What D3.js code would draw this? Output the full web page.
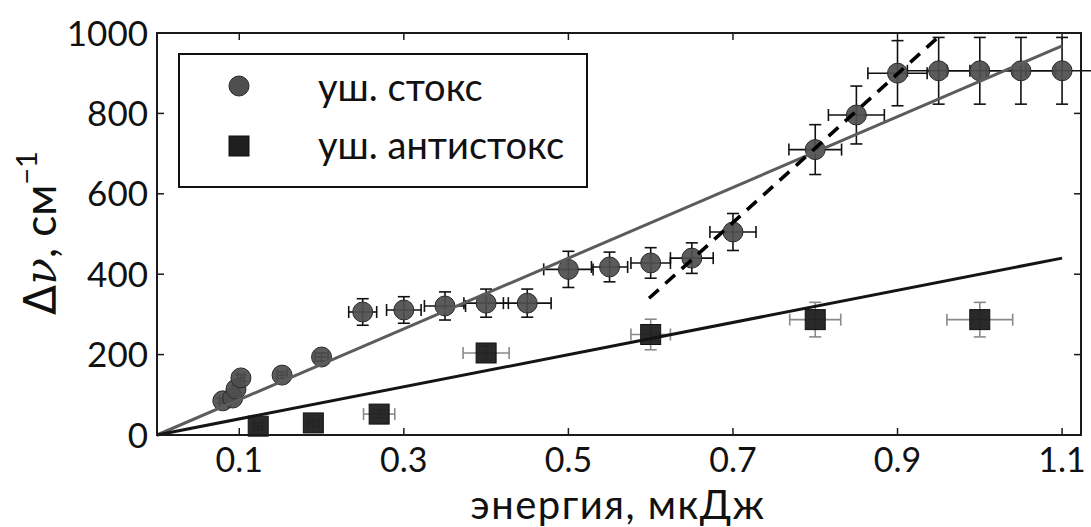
<!DOCTYPE html>
<html>
<head>
<meta charset="utf-8">
<script src="https://cdn.jsdelivr.net/npm/d3@7"></script>
<style>
  body { margin: 0; background: #fff; }
  svg { display: block; font-family: Lato, "Open Sans", sans-serif; }
</style>
</head>
<body>
<div id="chart"></div>
<script>
// Stokes (circles)
const stokesEnergy = [0.08, 0.092, 0.096, 0.102, 0.152, 0.2, 0.25, 0.3, 0.35, 0.4, 0.45, 0.5, 0.55, 0.6, 0.65, 0.7, 0.8, 0.85, 0.9, 0.95, 1.0, 1.05, 1.1];
const stokesShift = [85, 92, 114, 142, 149, 194, 306, 311, 321, 328, 328, 412, 418, 428, 440, 505, 710, 796, 900, 906, 906, 906, 906];
const stokesEnergyErr = [0.004, 0.004, 0.004, 0.004, 0.006, 0.008, 0.017, 0.021, 0.025, 0.027, 0.029, 0.03, 0.022, 0.024, 0.026, 0.028, 0.032, 0.034, 0.036, 0.038, 0.04, 0.042, 0.044];
const stokesShiftErr = [6, 6, 8, 8, 8, 10, 33, 33, 35, 35, 35, 45, 37, 38, 38, 46, 62, 72, 81, 83, 83, 83, 83];

// anti-Stokes (squares)
const antiEnergy = [0.123, 0.19, 0.27, 0.4, 0.6, 0.8, 1.0];
const antiShift = [22, 30, 52, 204, 250, 287, 287];
const antiEnergyErr = [0.005, 0.007, 0.019, 0.028, 0.024, 0.031, 0.04];
const antiShiftErr = [8, 8, 10, 18, 38, 43, 43];

// fit lines
const stokesFitX = [0, 1.1];
const stokesFitY = [0, 968];
const antiFitX = [0, 1.1];
const antiFitY = [0, 440];
const steepFitX = [0.598, 0.955];
const steepFitY = [340, 1000];

const xTicks = [0.1, 0.3, 0.5, 0.7, 0.9, 1.1];
const yTicks = [0, 200, 400, 600, 800, 1000];
const legendLabels = ["уш. стокс", "уш. антистокс"];

const width = 1091;
const height = 527;
const margin = { top: 33, right: 10, bottom: 92, left: 157 };

const x = d3.scaleLinear()
  .domain([0, 1.123])
  .range([margin.left, width - margin.right]);
const y = d3.scaleLinear()
  .domain([0, 1000])
  .range([height - margin.bottom, margin.top]);

const svg = d3.select("#chart")
  .append("svg")
  .attr("width", width)
  .attr("height", height);

const toRows = (xs, ys, xe, ye) =>
  xs.map((v, i) => ({ x: v, y: ys[i], xe: xe[i], ye: ye[i] }));
const stokes = toRows(stokesEnergy, stokesShift, stokesEnergyErr, stokesShiftErr);
const anti = toRows(antiEnergy, antiShift, antiEnergyErr, antiShiftErr);

const plot = svg.append("g");
const cap = 6;

function drawErrors(g, rows, color) {
  const bars = g.selectAll("g").data(rows).join("g")
    .attr("stroke", color)
    .attr("stroke-width", 1.6);
  bars.append("line")
    .attr("x1", (d) => x(d.x - d.xe)).attr("x2", (d) => x(d.x + d.xe))
    .attr("y1", (d) => y(d.y)).attr("y2", (d) => y(d.y));
  bars.append("line")
    .attr("x1", (d) => x(d.x)).attr("x2", (d) => x(d.x))
    .attr("y1", (d) => y(d.y - d.ye)).attr("y2", (d) => y(d.y + d.ye));
  // caps
  [-1, 1].forEach((s) => {
    bars.append("line")
      .attr("x1", (d) => x(d.x + s * d.xe)).attr("x2", (d) => x(d.x + s * d.xe))
      .attr("y1", (d) => y(d.y) - cap).attr("y2", (d) => y(d.y) + cap);
    bars.append("line")
      .attr("x1", (d) => x(d.x) - cap).attr("x2", (d) => x(d.x) + cap)
      .attr("y1", (d) => y(d.y + s * d.ye)).attr("y2", (d) => y(d.y + s * d.ye));
  });
}

drawErrors(plot.append("g").attr("class", "err-stokes"), stokes, "#111");
drawErrors(plot.append("g").attr("class", "err-anti"), anti, "#8a8a8a");

plot.append("g").selectAll("circle").data(stokes).join("circle")
  .attr("cx", (d) => x(d.x))
  .attr("cy", (d) => y(d.y))
  .attr("r", 10)
  .attr("fill", "#4f4f4f")
  .attr("fill-opacity", 0.93)
  .attr("stroke", "#2a2a2a")
  .attr("stroke-width", 1);

plot.append("g").selectAll("rect").data(anti).join("rect")
  .attr("x", (d) => x(d.x) - 10)
  .attr("y", (d) => y(d.y) - 10)
  .attr("width", 20)
  .attr("height", 20)
  .attr("fill", "#1f1f1f")
  .attr("fill-opacity", 0.95)
  .attr("stroke", "#111")
  .attr("stroke-width", 1);

const line = d3.line().x((d) => x(d[0])).y((d) => y(d[1]));
const pairs = (xs, ys) => xs.map((v, i) => [v, ys[i]]);

plot.append("path")
  .attr("d", line(pairs(stokesFitX, stokesFitY)))
  .attr("fill", "none").attr("stroke", "#5c5c5c").attr("stroke-width", 3);
plot.append("path")
  .attr("d", line(pairs(antiFitX, antiFitY)))
  .attr("fill", "none").attr("stroke", "#141414").attr("stroke-width", 3);
plot.append("path")
  .attr("d", line(pairs(steepFitX, steepFitY)))
  .attr("fill", "none").attr("stroke", "#000").attr("stroke-width", 3.5)
  .attr("stroke-dasharray", "13,9");

// axes: ticks pointing inward on all four sides
const tickLen = 7;
const axes = svg.append("g").attr("stroke", "#1a1a1a").attr("stroke-width", 1.5);
xTicks.forEach((t) => {
  axes.append("line").attr("x1", x(t)).attr("x2", x(t))
    .attr("y1", y(0)).attr("y2", y(0) - tickLen);
  axes.append("line").attr("x1", x(t)).attr("x2", x(t))
    .attr("y1", y(1000)).attr("y2", y(1000) + tickLen);
});
yTicks.forEach((t) => {
  axes.append("line").attr("x1", x(0)).attr("x2", x(0) + tickLen)
    .attr("y1", y(t)).attr("y2", y(t));
  axes.append("line").attr("x1", x.range()[1]).attr("x2", x.range()[1] - tickLen)
    .attr("y1", y(t)).attr("y2", y(t));
});
svg.append("rect")
  .attr("x", x.range()[0]).attr("y", y.range()[1])
  .attr("width", x.range()[1] - x.range()[0])
  .attr("height", y.range()[0] - y.range()[1])
  .attr("fill", "none").attr("stroke", "#1a1a1a").attr("stroke-width", 2);

svg.append("g").selectAll("text").data(xTicks).join("text")
  .attr("x", (d) => x(d))
  .attr("y", 472)
  .attr("text-anchor", "middle")
  .attr("font-size", 34)
  .attr("fill", "#111")
  .text((d) => d3.format(".1f")(d));

svg.append("g").selectAll("text").data(yTicks).join("text")
  .attr("x", 148)
  .attr("y", (d) => y(d))
  .attr("dy", "0.36em")
  .attr("text-anchor", "end")
  .attr("font-size", 35)
  .attr("fill", "#111")
  .text((d) => d);

svg.append("text")
  .attr("x", 618)
  .attr("y", 519)
  .attr("text-anchor", "middle")
  .attr("font-size", 40)
  .attr("letter-spacing", 1.5)
  .attr("fill", "#111")
  .text("энергия, мкДж");

const yLabel = svg.append("text")
  .attr("transform", "translate(56,233) rotate(-90)")
  .attr("text-anchor", "middle")
  .attr("font-size", 44)
  .attr("fill", "#111");
yLabel.append("tspan").attr("font-family", "DejaVu Sans").text("Δ");
yLabel.append("tspan").attr("font-family", "DejaVu Serif").attr("font-style", "italic").text("ν");
yLabel.append("tspan").text(", см");
yLabel.append("tspan").attr("font-size", 29).attr("dy", -19).text("−1");

// legend
const legend = svg.append("g");
legend.append("rect")
  .attr("x", 179).attr("y", 54).attr("width", 408).attr("height", 133)
  .attr("fill", "#fff").attr("stroke", "#111").attr("stroke-width", 2);
legend.append("circle")
  .attr("cx", 239).attr("cy", 86).attr("r", 10)
  .attr("fill", "#4f4f4f").attr("stroke", "#2a2a2a");
legend.append("rect")
  .attr("x", 229).attr("y", 136).attr("width", 20).attr("height", 20)
  .attr("fill", "#1f1f1f").attr("stroke", "#111");
legend.selectAll("text.lbl").data(legendLabels).join("text")
  .attr("class", "lbl")
  .attr("x", 318)
  .attr("y", (d, i) => 101 + i * 58)
  .attr("font-size", 38)
  .attr("fill", "#111")
  .text((d) => d);
</script>
</body>
</html>
